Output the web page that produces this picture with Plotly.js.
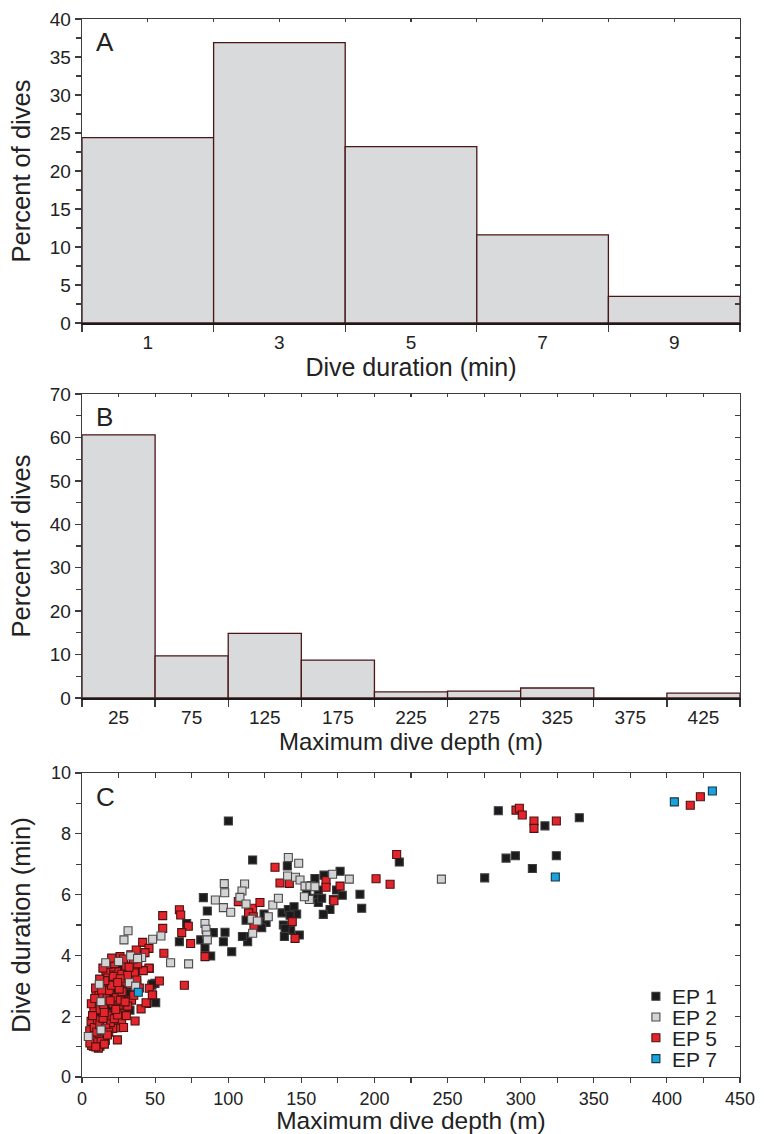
<!DOCTYPE html>
<html>
<head>
<meta charset="utf-8">
<script src="https://cdn.plot.ly/plotly-3.0.1.min.js"></script>
<style>
html,body{margin:0;padding:0;background:#fff;}
#chart{width:768px;height:1134px;}
</style>
</head>
<body>
<div id="chart"></div>
<script>
// ---------- Panel A: dive duration histogram ----------
const durBins = [1, 3, 5, 7, 9];
const durPct = [24.4, 36.9, 23.2, 11.6, 3.5];

// ---------- Panel B: maximum dive depth histogram ----------
const depthBins = [25, 75, 125, 175, 225, 275, 325, 375, 425];
const depthPct = [60.6, 9.7, 14.9, 8.7, 1.4, 1.6, 2.3, 0, 1.1];

// ---------- Panel C: scatter, depth (m) vs duration (min) ----------
const ep1Depth = [100.1,116.7,140.4,165.5,159.3,153.7,161.6,174.1,176.5,190.1,191.3,159.3,161.6,163.9,171.9,169.6,165.0,83.0,85.7,112.2,124.5,125.9,122.9,111.5,113.3,109.7,136.8,141.1,145.0,146.8,142.3,137.7,142.7,138.9,148.6,138.4,97.8,96.7,102.4,89.8,81.2,84.1,88.0,71.6,66.6,217.0,284.7,316.6,340.1,290.0,296.4,308.0,324.4,275.4,178.0,157.0,
  39.7,27.8,24.2,37.4,47.7,49.9,50.4,32.8,19.1,21.4,25.9,29.4,13.9,16.9,17.3,18.0,25.3,29.4,19.1,48.1,35.0,22.0,31.0,15.0,12.0,30.0,23.0,26.0,14.0,10.0,20.0,33.0,27.5,11.0,16.0,9.0,24.9];
const ep1Dur = [8.42,7.14,6.94,6.64,6.53,6.09,6.15,6.15,6.77,6.01,5.55,5.88,5.74,5.88,5.84,5.51,5.35,5.90,5.46,5.16,5.36,5.08,4.91,4.62,4.45,4.62,5.40,5.51,5.60,5.36,5.32,5.00,4.83,4.89,4.67,4.62,4.76,4.45,4.12,4.75,4.51,4.26,3.98,5.05,4.45,7.07,8.76,8.26,8.53,7.20,7.28,6.86,7.28,6.55,5.98,6.30,
  4.01,3.59,3.21,3.08,3.02,3.08,2.44,2.20,3.08,2.70,2.72,2.75,1.33,2.00,2.31,3.30,3.50,3.58,2.75,3.06,2.90,2.90,3.00,2.60,1.90,3.30,3.40,3.00,1.50,1.70,2.20,2.75,2.95,2.30,1.20,2.10,3.63];

const ep2Depth = [141.1,148.2,182.8,171.4,140.6,146.0,149.1,152.5,155.9,159.3,155.5,152.1,91.2,97.3,97.6,96.7,101.7,111.2,109.4,108.0,112.2,116.0,119.9,127.4,130.5,134.3,116.7,84.1,84.8,85.3,85.7,54.0,48.3,60.6,72.9,31.5,28.7,33.3,40.8,16.2,11.8,32.4,36.7,13.0,13.0,4.3,245.8,38.0,25.0];
const ep2Dur = [7.22,7.03,6.51,6.67,6.61,6.57,6.48,6.28,6.28,6.26,5.84,5.93,5.82,6.36,6.06,5.57,5.42,6.35,6.12,5.91,5.69,5.19,5.13,5.27,5.66,5.88,4.73,5.05,4.86,4.67,4.51,4.64,4.53,3.76,3.72,4.81,4.51,3.98,3.93,3.76,3.05,3.10,2.99,2.48,1.55,1.33,6.51,3.90,3.80];

const ep5Depth = [132.0,215.2,201.1,210.7,141.8,135.4,166.9,166.9,176.5,172.3,106.9,116.7,121.7,113.9,117.1,117.6,143.8,145.7,84.1,72.7,68.2,74.3,66.6,67.5,55.2,55.2,41.5,45.8,56.0,70.0,43.1,296.8,299.1,301.1,309.1,309.1,324.4,416.0,422.9,
  26.0,19.6,30.1,36.3,41.3,46.0,23.7,9.6,52.9,46.0,48.3,44.2,40.4,36.3,33.9,27.8,27.1,24.2,24.2,21.0,7.8,12.3,6.6,11.2,35.8,45.8,41.9,19.8,27.1,43.8,48.1,
  16.8,22.4,28.3,32.2,38.1,14.2,10.3,8.1,6.2,5.3,7.4,9.2,11.5,13.1,15.3,8.4,10.6,12.4,14.7,16.3,18.6,20.2,9.3,11.7,13.4,15.6,17.1,19.4,21.3,23.5,25.2,27.4,29.2,31.3,33.2,35.4,37.5,39.2,6.4,7.2,8.7,10.1,12.2,14.4,16.2,18.3,20.4,22.1,24.3,26.2,28.4,30.3,5.4,9.4,13.3,15.2,17.4,19.2,21.4,23.1,25.4,27.2,29.5,31.1,16.3,18.2,22.3,20.3,26.1,24.4,12.1,14.3,35.2,33.4,37.1];
const ep5Dur = [6.90,7.32,6.52,6.34,6.37,6.38,6.46,6.24,6.28,5.80,5.77,5.55,5.74,5.40,5.27,4.95,5.11,4.56,3.96,4.96,4.75,4.39,5.50,5.33,5.31,4.89,4.43,4.23,4.07,3.02,4.09,8.78,8.84,8.62,8.42,8.18,8.42,8.94,9.22,
  3.96,3.50,3.65,3.48,3.51,3.57,3.46,2.77,3.16,2.92,2.68,2.42,2.24,1.84,2.53,2.31,2.09,1.62,1.22,1.60,1.01,1.01,1.04,0.95,3.42,3.58,3.50,3.62,1.87,2.44,2.70,
  3.28,3.18,3.88,3.61,3.72,2.97,2.52,2.18,1.83,1.52,1.31,1.19,1.42,1.17,1.08,1.63,1.88,2.21,2.38,2.63,2.84,3.02,2.93,2.68,2.86,3.17,2.07,1.79,2.42,2.61,2.37,2.81,3.12,2.33,3.04,2.69,3.19,2.93,2.41,2.02,2.58,1.48,1.71,1.93,1.61,1.47,2.01,1.92,2.04,2.53,1.63,2.02,1.12,0.99,1.52,2.12,1.38,2.51,3.31,2.22,2.89,3.38,2.47,3.34,3.52,3.71,3.73,3.91,3.23,3.11,3.22,3.58,3.88,4.02,4.18];

const ep7Depth = [38.5, 323.7, 405.1, 431.1];
const ep7Dur = [2.79, 6.58, 9.05, 9.41];

const seriesNames = ['EP 1', 'EP 2', 'EP 5', 'EP 7'];

// ---------- styling ----------
const FONT = 'Liberation Sans, Arial, Helvetica, sans-serif';
const INK = '#222';
const AX = '#3c3c3c';
const barFill = '#d9dadc';
const barEdge = 'rgb(75,22,22)';
const W = 768, H = 1134;
const xDom = [82 / W, 740 / W];
function yDom(top, bottom) { return [1 - bottom / H, 1 - top / H]; }

function sq(fill, edge) {
  return {symbol: 'square', size: 8, color: fill, line: {color: edge, width: 1.1}};
}

const data = [
  {type: 'bar', x: durBins, y: durPct, width: 2, xaxis: 'x', yaxis: 'y',
   marker: {color: barFill, line: {color: barEdge, width: 1.3}}, showlegend: false, hoverinfo: 'skip'},
  {type: 'bar', x: depthBins, y: depthPct, width: 50, xaxis: 'x2', yaxis: 'y2',
   marker: {color: barFill, line: {color: barEdge, width: 1.3}}, showlegend: false, hoverinfo: 'skip'},
  {type: 'scatter', mode: 'markers', name: seriesNames[0], legendrank: 1, x: ep1Depth, y: ep1Dur, xaxis: 'x3', yaxis: 'y3',
   marker: sq('#1b1b1d', '#3a3a3a')},
  {type: 'scatter', mode: 'markers', name: seriesNames[2], legendrank: 3, x: ep5Depth, y: ep5Dur, xaxis: 'x3', yaxis: 'y3',
   marker: sq('#e3252b', '#4a1212')},
  {type: 'scatter', mode: 'markers', name: seriesNames[1], legendrank: 2, x: ep2Depth, y: ep2Dur, xaxis: 'x3', yaxis: 'y3',
   marker: sq('#d3d3d5', '#4a4a4a')},
  {type: 'scatter', mode: 'markers', name: seriesNames[3], legendrank: 4, x: ep7Depth, y: ep7Dur, xaxis: 'x3', yaxis: 'y3',
   marker: sq('#18a3dc', '#183448')},
  // empty traces so that the frame (top/right) axes get their subplots
  {type: 'scatter', x: [], y: [], xaxis: 'x4', yaxis: 'y', showlegend: false, hoverinfo: 'skip'},
  {type: 'scatter', x: [], y: [], xaxis: 'x', yaxis: 'y4', showlegend: false, hoverinfo: 'skip'},
  {type: 'scatter', x: [], y: [], xaxis: 'x5', yaxis: 'y2', showlegend: false, hoverinfo: 'skip'},
  {type: 'scatter', x: [], y: [], xaxis: 'x2', yaxis: 'y5', showlegend: false, hoverinfo: 'skip'},
  {type: 'scatter', x: [], y: [], xaxis: 'x6', yaxis: 'y3', showlegend: false, hoverinfo: 'skip'},
  {type: 'scatter', x: [], y: [], xaxis: 'x3', yaxis: 'y6', showlegend: false, hoverinfo: 'skip'}
];

function tf(size) { return {family: FONT, size: size, color: INK}; }

function bottomHistAxis(range, vals, edgeStep, title, tsize, standoff) {
  return {
    domain: xDom, range: range, tickvals: vals, ticktext: vals.map(String),
    ticks: '', ticklabelstandoff: 1, tickfont: tf(19),
    minor: {ticks: 'outside', tick0: 0, dtick: edgeStep, ticklen: 7, tickwidth: 1.3, tickcolor: AX, showgrid: false},
    showline: true, linecolor: '#1a1a1a', linewidth: 2.2, showgrid: false, zeroline: false,
    title: {text: title, font: tf(tsize), standoff: standoff}, fixedrange: true
  };
}
function leftAxis(dom, range, dtick, minorStep, title, xid, tsize, ticksize) {
  return {
    domain: dom, range: range, dtick: dtick, tick0: 0, ticks: 'outside', ticklen: 6, tickwidth: 1.3, tickcolor: AX,
    tickfont: tf(ticksize), anchor: xid,
    minor: {ticks: 'outside', dtick: minorStep, tick0: 0, ticklen: 5, tickwidth: 1.2, tickcolor: AX, showgrid: false},
    showline: true, linecolor: AX, linewidth: 1.4, showgrid: false, zeroline: false,
    title: {text: title, font: tf(tsize), standoff: 6}, fixedrange: true
  };
}
function topFrame(over, yid, range, dtick, len) {
  return {overlaying: over, side: 'top', anchor: yid, range: range, dtick: dtick, tick0: 0,
    ticks: 'inside', ticklen: len, tickwidth: 1.1, tickcolor: AX, showticklabels: false,
    showline: true, linecolor: AX, linewidth: 1.4, showgrid: false, zeroline: false, fixedrange: true};
}
function rightFrame(over, xid, range, dtick, len) {
  return {overlaying: over, side: 'right', anchor: xid, range: range, dtick: dtick, tick0: 0,
    ticks: 'inside', ticklen: len, tickwidth: 1.2, tickcolor: AX, showticklabels: false,
    showline: true, linecolor: AX, linewidth: 1.4, showgrid: false, zeroline: false, fixedrange: true};
}

const xaxis3 = {
  domain: xDom, range: [0, 450], dtick: 50, tick0: 0, anchor: 'y3',
  ticks: 'outside', ticklen: 5, tickwidth: 1.2, tickcolor: AX, tickfont: tf(18),
  minor: {ticks: 'outside', dtick: 25, tick0: 0, ticklen: 5, tickwidth: 1.2, tickcolor: AX, showgrid: false},
  showline: true, linecolor: AX, linewidth: 1.4, showgrid: false, zeroline: false,
  title: {text: 'Maximum dive depth (m)', font: tf(24.5), standoff: 6}, fixedrange: true
};

const layout = {
  width: W, height: H,
  margin: {l: 0, r: 0, t: 0, b: 0},
  paper_bgcolor: '#fff', plot_bgcolor: 'rgba(0,0,0,0)',
  font: {family: FONT, color: INK},
  bargap: 0,
  xaxis: Object.assign(bottomHistAxis([0, 10], durBins, 2, 'Dive duration (min)', 25, 0), {anchor: 'y'}),
  yaxis: leftAxis(yDom(19, 323), [0, 40], 5, 2.5, 'Percent of dives', 'x', 25.5, 19),
  xaxis2: Object.assign(bottomHistAxis([0, 450], depthBins, 50, 'Maximum dive depth (m)', 24, 0), {anchor: 'y2'}),
  yaxis2: leftAxis(yDom(394, 698), [0, 70], 10, 5, 'Percent of dives', 'x2', 25.5, 19),
  xaxis3: xaxis3,
  yaxis3: leftAxis(yDom(773, 1077), [0, 10], 2, 1, 'Dive duration (min)', 'x3', 25.5, 18),
  xaxis4: topFrame('x', 'y', [0, 10], 1, 3),
  yaxis4: rightFrame('y', 'x', [0, 40], 2.5, 5),
  xaxis5: topFrame('x2', 'y2', [0, 450], 25, 3),
  yaxis5: rightFrame('y2', 'x2', [0, 70], 5, 5),
  xaxis6: topFrame('x3', 'y3', [0, 450], 25, 5),
  yaxis6: rightFrame('y3', 'x3', [0, 10], 1, 5),
  showlegend: true,
  legend: {x: 0.828, xanchor: 'left', y: 0.1393, yanchor: 'top', bgcolor: 'rgba(0,0,0,0)', borderwidth: 0,
           font: {family: FONT, size: 21, color: INK}, itemwidth: 30, tracegroupgap: 0, traceorder: 'normal'},
  annotations: [
    {text: 'A', xref: 'x domain', yref: 'y domain', x: 0.018, y: 0.924, xanchor: 'left', yanchor: 'middle',
     showarrow: false, font: {family: FONT, size: 26, color: INK}},
    {text: 'B', xref: 'x2 domain', yref: 'y2 domain', x: 0.018, y: 0.924, xanchor: 'left', yanchor: 'middle',
     showarrow: false, font: {family: FONT, size: 26, color: INK}},
    {text: 'C', xref: 'x3 domain', yref: 'y3 domain', x: 0.018, y: 0.921, xanchor: 'left', yanchor: 'middle',
     showarrow: false, font: {family: FONT, size: 26, color: INK}}
  ]
};

Plotly.newPlot('chart', data, layout, {staticPlot: true, displayModeBar: false}).then(function (gd) {
  // tighten legend row spacing and text gap to match the compact original legend
  const items = gd.querySelectorAll('.legend .traces');
  let y0 = null;
  items.forEach(function (g, i) {
    const t = g.getAttribute('transform') || '';
    const m = /translate\(\s*([-\d.eE]+)[\s,]+([-\d.eE]+)\s*\)/.exec(t);
    if (m) {
      if (y0 === null) y0 = parseFloat(m[2]);
      g.setAttribute('transform', 'translate(' + m[1] + ',' + (y0 + i * 20.8) + ')');
    }
    const txt = g.querySelector('.legendtext');
    if (txt) {
      const x = parseFloat(txt.getAttribute('x') || '40');
      txt.setAttribute('x', String(x - 4));
    }
  });
  // nudge the y-axis titles left, as in the original figure
  ['ytitle', 'y2title', 'y3title'].forEach(function (k, i) {
    const g = gd.querySelector('.g-' + k);
    if (g) g.setAttribute('transform', 'translate(' + (i === 2 ? -7 : -5) + ',0)');
  });
});
</script>
</body>
</html>
